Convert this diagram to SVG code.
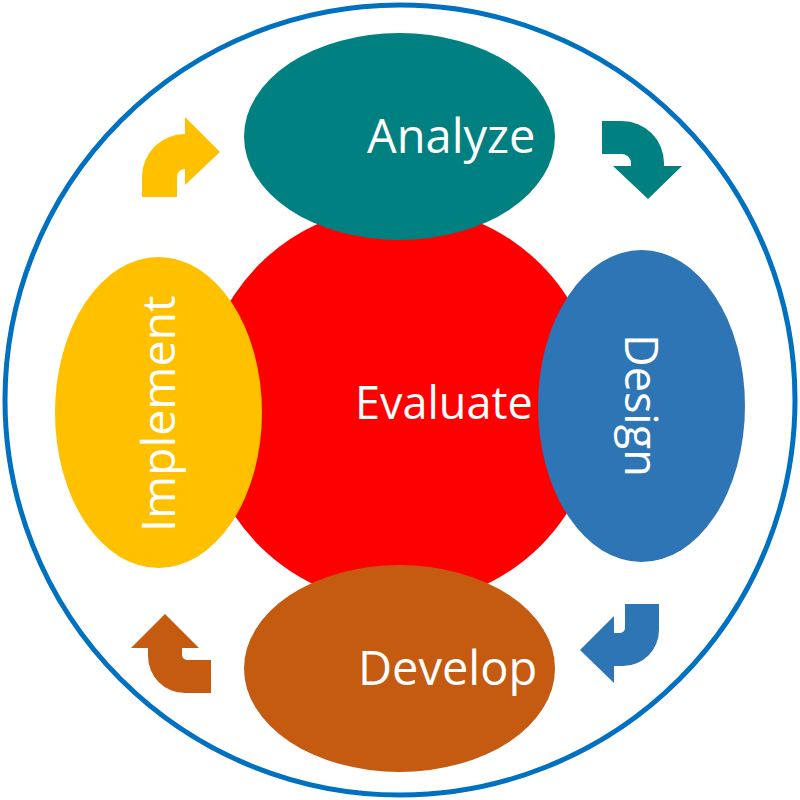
<svg xmlns="http://www.w3.org/2000/svg" width="800" height="800" viewBox="0 0 800 800">
<style>
.lbl{font-family:"Open Sans","Liberation Sans",sans-serif;fill:#FFFFFF;font-size:47px}
</style>
<rect width="800" height="800" fill="#FFFFFF"/>
<circle id="frame" cx="400" cy="400" r="395" fill="none" stroke="#0070C0" stroke-width="5"/>
<g id="evaluate">
<circle cx="400" cy="405" r="199" fill="#FF0000"/>
<text class="lbl" x="355" y="419" style="font-size:45px">Evaluate</text>
</g>
<g id="analyze">
<ellipse cx="399.5" cy="136.5" rx="155.5" ry="103.5" fill="#008080"/>
<text class="lbl" x="367" y="153">Analyze</text>
</g>
<g id="design">
<ellipse cx="641.5" cy="406" rx="103.5" ry="156" fill="#2E75B6"/>
<text class="lbl" transform="translate(625,334) rotate(90)" style="font-size:45px">Design</text>
</g>
<g id="develop">
<ellipse cx="399.5" cy="668.5" rx="155.5" ry="103.5" fill="#C55A11"/>
<text class="lbl" x="358" y="685">Develop</text>
</g>
<g id="implement">
<ellipse cx="158.5" cy="412.5" rx="103.5" ry="155.5" fill="#FFC000"/>
<text class="lbl" transform="translate(175,532) rotate(-90)" style="font-size:46.5px">Implement</text>
</g>
<g id="connectors">
<path fill="#FFC000" d="M142,197 L142,177 A43,43 0 0 1 185,134 L185,117 L220,152 L185,185 L185,169 A8,8 0 0 0 177,177 L177,197 Z"/>
<path fill="#008080" d="M602,121 L622,121 A42,42 0 0 1 664,163 L664,166 L682,166 L648,199 L613,166 L631,166 L631,163 A9,9 0 0 0 622,154 L602,154 Z"/>
<path fill="#2E75B6" d="M625,604 L659,604 L659,630 A36,36 0 0 1 623,666 L614,666 L614,683 L580,650 L614,616 L614,633 L620,633 A5,5 0 0 0 625,628 Z"/>
<path fill="#C55A11" d="M165,614 L199,648 L182,648 L182,655 A5,5 0 0 0 187,660 L211,660 L211,693 L185,693 A37,37 0 0 1 148,656 L148,648 L131,648 Z"/>
</g>
</svg>
